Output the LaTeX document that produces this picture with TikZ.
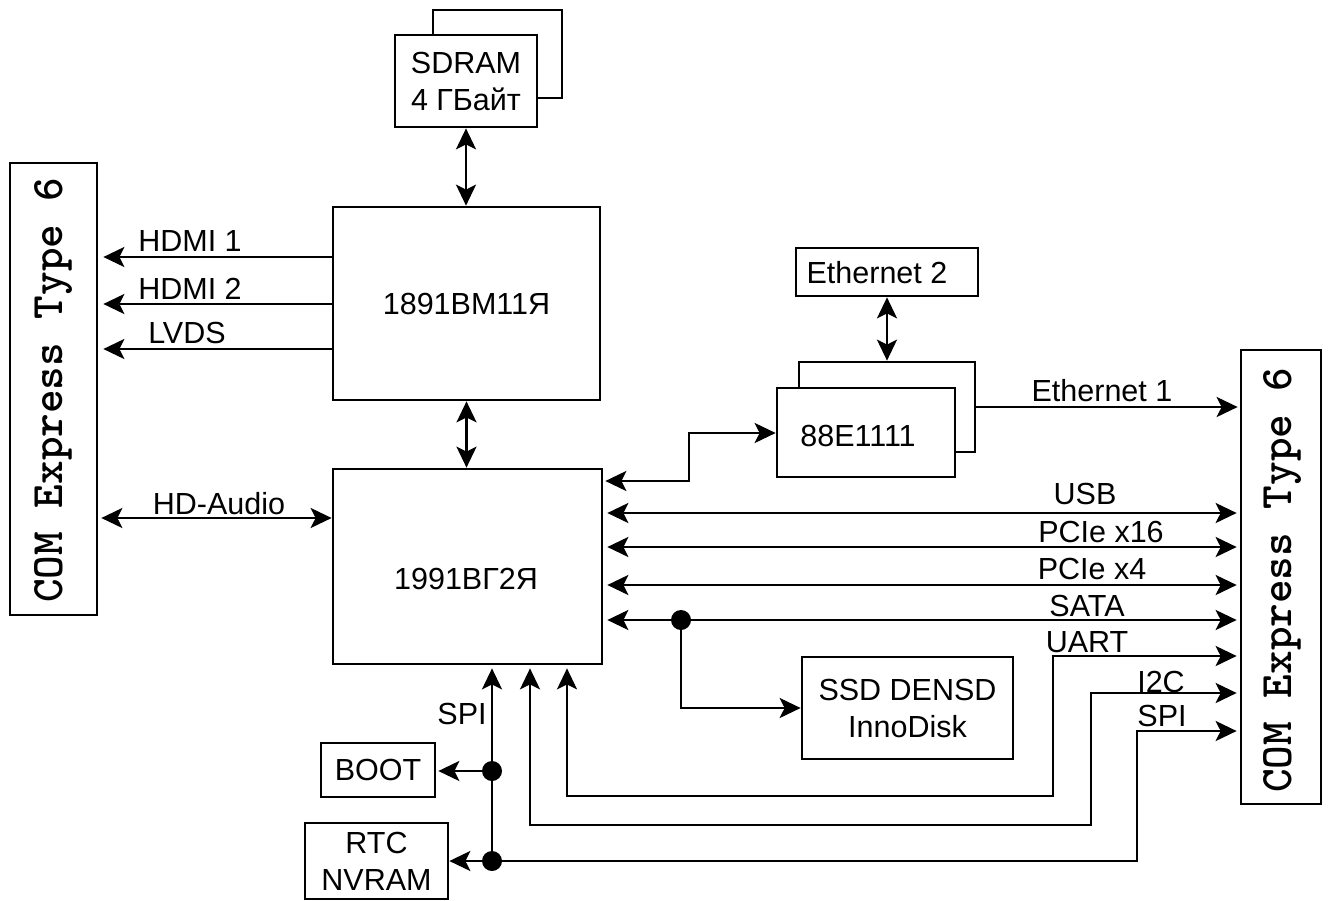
\documentclass[tikz,border=0pt]{standalone}
\usepackage{fontspec}
\setmainfont{Liberation Sans}
\usetikzlibrary{arrows.meta,calc}
\newcommand\boxfont{\fontsize{30.5}{37}\selectfont}
\begin{document}
\begin{tikzpicture}[x=1pt,y=-1pt,
  >={Stealth[length=21pt,width=20pt,inset=5pt]},
  ln/.style={line width=2.7pt},
  box/.style={draw,line width=2.7pt,fill=white,inner sep=0pt,align=center,font=\boxfont},
  lbl/.style={inner sep=0pt,font=\boxfont,text height=22pt,text depth=0pt},
  comtext/.style={inner sep=0pt,rotate=90,font=\ttfamily\bfseries\fontsize{45}{45}\selectfont},
  dot/.style={circle,fill=black,inner sep=0pt,minimum size=20pt}
]
\useasboundingbox (0,0) rectangle (1328,900);

% boxes
\node[box,minimum width=129pt,minimum height=88pt] (sdramB) at (497.5,54) {};
\node[box,minimum width=142pt,minimum height=92pt] (sdram) at (466,81) {SDRAM\\4 ГБайт};
\node[box,minimum width=267pt,minimum height=193pt] (cpu1) at (466.5,303.5) {1891ВМ11Я};
\node[box,minimum width=269pt,minimum height=195pt] (cpu2) at (467.5,566.5) {};
\node[lbl] (cpu2t) at (466,578) {1991ВГ2Я};
\node[box,minimum width=87pt,minimum height=452pt] (comL) at (53.5,389) {};
\node[comtext] (comLt) at (53,390) {COM Express Type 6};
\node[box,minimum width=80pt,minimum height=454pt] (comR) at (1281,577) {};
\node[comtext] (comRt) at (1282,580) {COM Express Type 6};
\node[box,minimum width=182pt,minimum height=48pt] (eth2) at (887,272) {};
\node[lbl] (eth2t) at (877,272) {Ethernet 2};
\node[box,minimum width=176pt,minimum height=90pt] (phyB) at (887,407) {};
\node[box,minimum width=178pt,minimum height=89pt] (phy) at (866,432.5) {};
\node[lbl] (phyt) at (858,435) {88E1111};
\node[box,minimum width=211pt,minimum height=102pt] (ssd) at (907.5,708) {SSD DENSD\\InnoDisk};
\node[box,minimum width=114pt,minimum height=54pt] (boot) at (378,770) {BOOT};
\node[box,minimum width=143pt,minimum height=76pt] (rtc) at (376.5,861) {RTC\\NVRAM};

% levels and corners
\coordinate (yH1) at (0,257);
\coordinate (yH2) at (0,304);
\coordinate (yLV) at (0,349);
\coordinate (yAu) at (0,518);
\coordinate (yUSB) at (0,513);
\coordinate (yX16) at (0,547);
\coordinate (yX4) at (0,585);
\coordinate (ySATA) at (0,620);
\coordinate (yUART) at (0,656);
\coordinate (yI2C) at (0,693);
\coordinate (ySPI) at (0,731);
\coordinate (k1) at (689,481);
\coordinate (k2) at (689,433);
\coordinate (u1) at (567,796);
\coordinate (u2) at (1053,796);
\coordinate (i1) at (530,825);
\coordinate (i2) at (1091,825);
\coordinate (s2) at (1137,861);

% junction dots
\node[dot] (j1) at (681,620) {};
\node[dot] (j2) at (492,771) {};
\node[dot] (j3) at (492,861) {};

% connectors
\draw[ln,<->] (sdram.south) -- (sdram.south |- cpu1.north);
\draw[ln,<->] (cpu1.south) -- (cpu1.south |- cpu2.north);
\draw[ln,->,shorten >=5pt] (cpu1.west |- yH1) -- (comL.east |- yH1);
\draw[ln,->,shorten >=5pt] (cpu1.west |- yH2) -- (comL.east |- yH2);
\draw[ln,->,shorten >=5pt] (cpu1.west |- yLV) -- (comL.east |- yLV);
\draw[ln,<->,shorten <=3pt] (comL.east |- yAu) -- (cpu2.west |- yAu);

\draw[ln,<->,shorten <=2pt] (cpu2.east |- k1) -- (k1) -- (k2) -- (phy.west |- k2);
\draw[ln,<->] (eth2.south) -- (phyB.north);
\draw[ln,->,shorten >=2pt] (phyB.east) -- (phyB.east -| comR.west);

\draw[ln,<->,shorten <=4pt,shorten >=3pt] (cpu2.east |- yUSB) -- (comR.west |- yUSB);
\draw[ln,<->,shorten <=4pt,shorten >=3pt] (cpu2.east |- yX16) -- (comR.west |- yX16);
\draw[ln,<->,shorten <=4pt,shorten >=3pt] (cpu2.east |- yX4) -- (comR.west |- yX4);
\draw[ln,<->,shorten <=4pt,shorten >=3pt] (cpu2.east |- ySATA) -- (comR.west |- ySATA);
\draw[ln,->] (j1.center) |- (ssd.west);

\draw[ln,<->,shorten <=3pt,shorten >=3pt] (u1 |- cpu2.south) -- (u1) -- (u2) -- (u2 |- yUART) -- (comR.west |- yUART);
\draw[ln,<->,shorten <=3pt,shorten >=3pt] (i1 |- cpu2.south) -- (i1) -- (i2) -- (i2 |- yI2C) -- (comR.west |- yI2C);
\draw[ln,->,shorten >=3pt] (j3.center) -- (s2) -- (s2 |- ySPI) -- (comR.west |- ySPI);
\draw[ln,->,shorten >=3pt] (j3.center) -- (j3 |- cpu2.south);
\draw[ln,->,shorten >=2pt] (j2.center) -- (j2 -| boot.east);
\draw[ln,->] (j3.center) -- (j3 -| rtc.east);

% labels
\node[lbl] (lH1) at (190,240) {HDMI 1};
\node[lbl] (lH2) at (190,288) {HDMI 2};
\node[lbl] (lLV) at (187,332) {LVDS};
\node[lbl] (lAu) at (219,503) {HD-Audio};
\node[lbl] (lE1) at (1102,390) {Ethernet 1};
\node[lbl] (lUSB) at (1085,493) {USB};
\node[lbl] (lX16) at (1101,531) {PCIe x16};
\node[lbl] (lX4) at (1092,568) {PCIe x4};
\node[lbl] (lSATA) at (1087,605) {SATA};
\node[lbl] (lUART) at (1087,641) {UART};
\node[lbl] (lI2C) at (1161,681) {I2C};
\node[lbl] (lSPI) at (1162,715) {SPI};
\node[lbl] (lSPIb) at (462,713) {SPI};
\end{tikzpicture}
\end{document}
